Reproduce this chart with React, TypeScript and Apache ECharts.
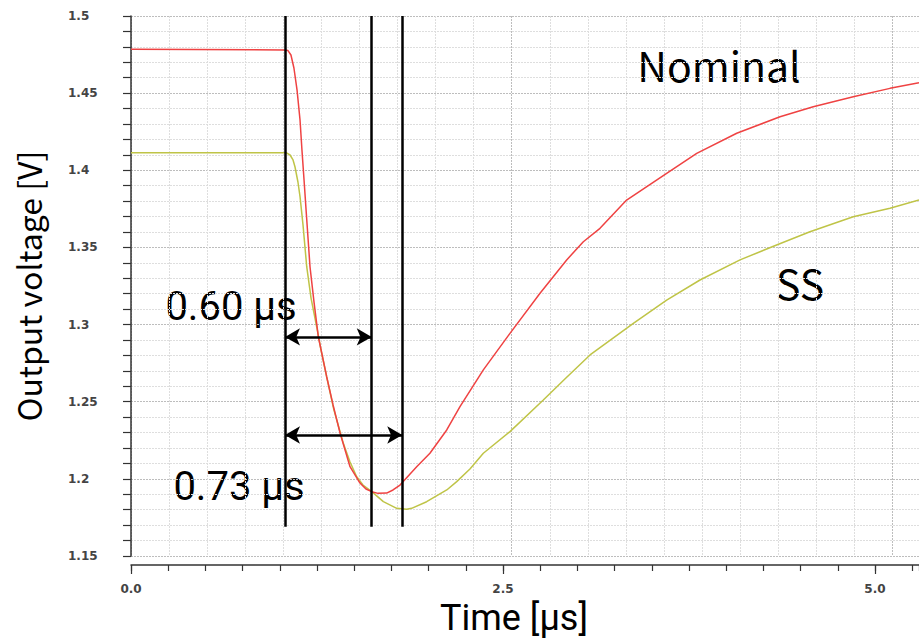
import { useEffect, useRef } from "react";
import * as echarts from "echarts";

// Visible span of the time axis (µs) and of the background grid scale
const T_MAX = 5.296;
const GRID_T_MAX = 5.174;
const V_MIN = 1.15;
const V_MAX = 1.5;

// Output voltage after a load step, [time µs, volts]
const nominal: [number, number][] = [
  [0, 1.4784], [1.028, 1.478], [1.055, 1.4776], [1.075, 1.4747], [1.095, 1.4663],
  [1.116, 1.452], [1.136, 1.4326], [1.149, 1.4131], [1.163, 1.3937], [1.179, 1.371],
  [1.203, 1.3375], [1.23, 1.3146], [1.259, 1.2921], [1.315, 1.2662], [1.358, 1.2479],
  [1.405, 1.2297], [1.472, 1.2079], [1.539, 1.1973], [1.579, 1.1934], [1.618, 1.1917],
  [1.66, 1.1906], [1.718, 1.1908], [1.761, 1.1928], [1.808, 1.196], [1.92, 1.2079],
  [2.009, 1.2166], [2.122, 1.2317], [2.211, 1.2468], [2.368, 1.2706], [2.547, 1.2943],
  [2.749, 1.3203], [2.928, 1.3419], [3.04, 1.3537], [3.152, 1.3624], [3.331, 1.3807],
  [3.6, 1.398], [3.802, 1.411], [4.071, 1.424], [4.362, 1.4347], [4.585, 1.4412],
  [4.854, 1.4477], [5.101, 1.4531], [5.296, 1.4568],
];

const ss: [number, number][] = [
  [0, 1.4114], [1.042, 1.4114], [1.069, 1.4099], [1.089, 1.4067], [1.102, 1.4023],
  [1.122, 1.3924], [1.136, 1.3829], [1.156, 1.3646], [1.181, 1.3375], [1.21, 1.3172],
  [1.248, 1.2986], [1.277, 1.2835], [1.315, 1.2662], [1.364, 1.2446], [1.427, 1.223],
  [1.472, 1.2109], [1.517, 1.2014], [1.559, 1.196], [1.618, 1.1917], [1.696, 1.1852],
  [1.786, 1.1809], [1.853, 1.1803], [1.886, 1.1809], [1.987, 1.1852], [2.122, 1.1928],
  [2.189, 1.1982], [2.278, 1.2064], [2.368, 1.2166], [2.547, 1.2306], [2.771, 1.2511],
  [2.923, 1.2654], [3.085, 1.2803], [3.376, 1.3008], [3.6, 1.3159], [3.824, 1.3289],
  [4.093, 1.3419], [4.339, 1.3516], [4.563, 1.3602], [4.854, 1.3699], [5.101, 1.3754],
  [5.296, 1.3807],
];

// Measurement cursors (µs) and where they stop (V)
const cursorTimes = [1.035, 1.618, 1.823];
const cursorFloor = 1.169;

// Double-headed span arrows between cursors
const spans = [
  { from: 1.035, to: 1.618, v: 1.292 },
  { from: 1.035, to: 1.823, v: 1.2284 },
];

const spanLabels = ["0.60 µs", "0.73 µs"];
const seriesNames = ["Nominal", "SS"];
const xTitle = "Time [µs]";
const yTitle = "Output voltage [V]";

const AXIS_COLOR = "#333";
const TICK_FONT = {
  fontFamily: "DejaVu Sans",
  fontWeight: "bold" as const,
  fontSize: 12,
  color: "#444",
};

export default function App() {
  const ref = useRef<HTMLDivElement>(null);

  useEffect(() => {
    if (!ref.current) return;
    const chart = echarts.init(ref.current, null, { renderer: "svg" });

    const gridColors = Array.from({ length: 10 }, (_, i) => (i === 0 ? "#bdbdbd" : "#dedede"));

    chart.setOption({
      animation: false,
      backgroundColor: "#fff",
      grid: { left: 131, right: 0, top: 16, bottom: 83, containLabel: false },
      xAxis: [
        {
          // minor ticks every 0.25 µs
          type: "value",
          min: 0,
          max: T_MAX,
          interval: 0.25,
          position: "bottom",
          offset: 9,
          axisLine: { show: true, lineStyle: { color: AXIS_COLOR, width: 1.5 } },
          axisTick: { show: true, length: 6, lineStyle: { color: AXIS_COLOR, width: 1.2 } },
          axisLabel: { show: false },
          splitLine: { show: false },
        },
        {
          // major ticks and labels every 2.5 µs
          type: "value",
          min: 0,
          max: T_MAX,
          interval: 2.5,
          position: "bottom",
          offset: 9,
          axisLine: { show: false },
          axisTick: { show: true, length: 9, lineStyle: { color: AXIS_COLOR, width: 1.2 } },
          axisLabel: {
            show: true,
            margin: 18,
            showMaxLabel: false,
            ...TICK_FONT,
            formatter: (v: number) =>
              Math.abs(v / 2.5 - Math.round(v / 2.5)) < 1e-6 ? v.toFixed(1) : "",
          },
          splitLine: { show: false },
        },
        {
          // background grid
          type: "value",
          min: 0,
          max: GRID_T_MAX,
          interval: 0.25,
          position: "top",
          axisLine: { show: false },
          axisTick: { show: false },
          axisLabel: { show: false },
          splitLine: { show: true, lineStyle: { color: gridColors, type: [2, 1], width: 1 } },
        },
      ],
      yAxis: {
        type: "value",
        min: V_MIN,
        max: V_MAX,
        interval: 0.05,
        offset: 11,
        axisLine: { show: true, lineStyle: { color: AXIS_COLOR, width: 1.5 } },
        axisTick: { show: true, length: 8, lineStyle: { color: AXIS_COLOR, width: 1.2 } },
        minorTick: { show: true, splitNumber: 5, length: 8, lineStyle: { color: AXIS_COLOR, width: 1.2 } },
        axisLabel: { margin: 52, align: "left", ...TICK_FONT },
        splitLine: { show: true, lineStyle: { color: "#bdbdbd", type: [2, 1], width: 1 } },
        minorSplitLine: { show: true, lineStyle: { color: "#dedede", type: [2, 1], width: 1 } },
      },
      series: [
        {
          name: seriesNames[0],
          type: "line",
          data: nominal,
          showSymbol: false,
          lineStyle: { color: "#ef4242", width: 1.5 },
          z: 3,
        },
        {
          name: seriesNames[1],
          type: "line",
          data: ss,
          showSymbol: false,
          lineStyle: { color: "#bfc447", width: 1.5 },
          z: 2,
        },
        {
          name: "cursors",
          type: "line",
          data: [],
          z: 5,
          markLine: {
            silent: true,
            symbol: ["none", "none"],
            label: { show: false },
            lineStyle: { color: "#000", width: 2.5, type: "solid" },
            data: cursorTimes.map((t) => [{ coord: [t, V_MAX] }, { coord: [t, cursorFloor] }]),
          },
        },
        {
          name: "spans",
          type: "line",
          data: [],
          z: 5,
          markLine: {
            silent: true,
            symbol: ["arrow", "arrow"],
            symbolSize: [13, 15],
            label: { show: false },
            lineStyle: { color: "#000", width: 2.5, type: "solid" },
            data: spans.map((s) => [{ coord: [s.from, s.v] }, { coord: [s.to, s.v] }]),
          },
        },
      ],
      graphic: [
        {
          type: "text",
          x: 719,
          y: 64,
          style: { text: seriesNames[0], font: '41px "Noto Sans CJK JP"', fill: "#000", align: "center", verticalAlign: "middle" },
        },
        {
          type: "text",
          x: 800,
          y: 282,
          style: { text: seriesNames[1], font: '41px "Noto Sans CJK JP"', fill: "#000", align: "center", verticalAlign: "middle" },
        },
        {
          type: "text",
          x: 231,
          y: 306,
          style: { text: spanLabels[0], font: "40px Roboto", fill: "#000", align: "center", verticalAlign: "middle" },
        },
        {
          type: "text",
          x: 239,
          y: 486,
          style: { text: spanLabels[1], font: "40px Roboto", fill: "#000", align: "center", verticalAlign: "middle" },
        },
        {
          type: "text",
          x: 28,
          y: 286,
          rotation: Math.PI / 2,
          style: { text: yTitle, font: '32px "Noto Sans CJK JP"', fill: "#000", align: "center", verticalAlign: "middle" },
        },
        {
          type: "text",
          x: 514,
          y: 618,
          style: { text: xTitle, font: "36px Roboto", fill: "#000", align: "center", verticalAlign: "middle" },
        },
      ],
    });

    return () => chart.dispose();
  }, []);

  return (
    <div
      ref={ref}
      style={{ position: "fixed", left: 0, top: 0, width: 919, height: 639, background: "#fff" }}
    />
  );
}
